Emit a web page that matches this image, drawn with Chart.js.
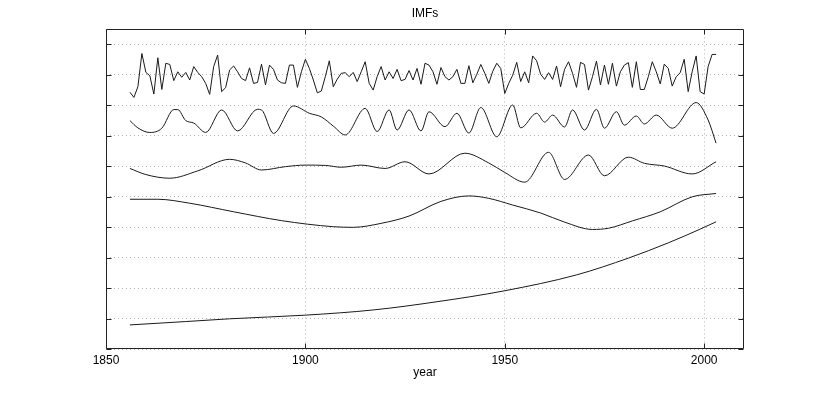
<!DOCTYPE html>
<html>
<head>
<meta charset="utf-8">
<script src="https://cdn.jsdelivr.net/npm/chart.js@4"></script>
<style>
  html, body { margin: 0; padding: 0; background: #fff; }
</style>
</head>
<body>
<canvas id="imfChart" width="822" height="393"></canvas>
<script>
// IMF 1: annual values 1856..2003 (plotted with its own offset)
const imf1Start = 1856;
const imf1 = [
    8.42, 8.25, 8.60, 9.69, 9.07, 8.96, 8.36, 9.55, 8.51, 9.37,
    9.33, 8.80, 9.09, 8.91, 9.07, 8.82, 9.26, 9.07, 8.93, 8.71,
    8.35, 9.26, 9.64, 8.44, 8.57, 9.15, 9.28, 9.09, 8.87, 8.80,
    9.22, 8.71, 8.74, 9.34, 8.66, 9.31, 9.17, 8.82, 8.73, 8.71,
    9.31, 9.31, 8.58, 9.09, 9.50, 9.20, 8.82, 8.40, 8.46, 8.93,
    9.45, 8.60, 8.85, 9.04, 9.06, 8.93, 9.07, 8.77, 9.09, 9.42,
    8.71, 8.49, 8.93, 9.26, 8.82, 9.09, 8.87, 9.17, 8.80, 8.84,
    9.13, 8.82, 9.20, 8.68, 9.37, 9.31, 9.09, 8.68, 9.23, 8.93,
    8.82, 8.93, 9.17, 8.71, 8.71, 9.29, 8.73, 9.01, 9.33, 9.04,
    8.71, 9.11, 9.37, 9.20, 8.38, 8.71, 8.98, 9.40, 8.77, 9.09,
    8.73, 9.61, 9.45, 9.01, 8.84, 9.06, 8.84, 9.28, 8.60, 9.17,
    9.42, 9.04, 8.58, 9.40, 9.33, 8.49, 8.93, 9.44, 8.66, 9.31,
    8.68, 9.37, 8.62, 9.09, 9.31, 9.39, 8.58, 9.42, 8.51, 8.51,
    8.93, 9.42, 9.09, 8.69, 9.34, 9.20, 8.62, 8.93, 9.06, 9.50,
    8.44, 9.09, 9.61, 8.44, 8.36, 9.26, 9.66, 9.66
];

// smoother IMFs: values read at turning points
const imf2Years = [1856, 1858, 1861, 1864, 1867, 1868, 1870, 1872, 1875, 1879, 1883, 1888, 1889, 1892, 1897,
    1901, 1904, 1907, 1910, 1915, 1918, 1921, 1923, 1926, 1929, 1931, 1935, 1938, 1941, 1944, 1948,
    1952, 1954, 1958, 1960, 1962, 1965, 1967, 1970, 1973, 1975, 1978, 1980, 1983, 1985, 1988, 1992,
    1998, 2001, 2003];
const imf2 = [7.49, 7.25, 7.10, 7.24, 7.85, 7.85, 7.49, 7.41, 7.10, 7.84, 7.15, 7.86, 7.84, 7.07, 7.97,
    7.73, 7.61, 7.31, 7.02, 7.89, 7.13, 7.84, 7.18, 7.84, 7.15, 7.78, 7.29, 7.73, 7.08, 7.92, 6.96,
    8.00, 7.25, 7.73, 7.44, 7.67, 7.28, 7.84, 7.18, 7.86, 7.24, 7.78, 7.34, 7.64, 7.38, 7.67, 7.24,
    8.08, 7.51, 6.75];

const imf3Years = [1856, 1860, 1866, 1873, 1881, 1885, 1889, 1895, 1900, 1905, 1909, 1914, 1920, 1925,
    1931, 1940, 1946, 1950, 1955, 1961, 1965, 1971, 1975, 1981, 1985, 1990, 1997, 2003];
const imf3 = [5.92, 5.72, 5.60, 5.84, 6.22, 6.10, 5.87, 5.98, 6.03, 6.02, 5.96, 6.03, 5.92, 6.14,
    5.74, 6.42, 6.10, 5.79, 5.47, 6.45, 5.56, 6.36, 5.68, 6.29, 6.09, 6.00, 5.74, 6.14];

const imf4Years = [1856, 1863, 1871, 1882, 1894, 1907, 1912, 1919, 1926, 1934, 1941, 1946, 1952, 1959,
    1965, 1972, 1976, 1982, 1989, 1997, 2003];
const imf4 = [4.91, 4.91, 4.78, 4.50, 4.21, 4.01, 3.99, 4.12, 4.36, 4.84, 5.02, 4.94, 4.72, 4.46,
    4.16, 3.92, 3.96, 4.20, 4.50, 4.99, 5.10];

const trendYears = [1856, 1870, 1881, 1900, 1917, 1933, 1950, 1968, 1981, 1991, 1999, 2003];
const trend = [0.79, 0.90, 0.99, 1.11, 1.28, 1.55, 1.91, 2.43, 2.98, 3.48, 3.93, 4.17];

const xTicks = [1850, 1900, 1950, 2000];
const yTicks = [0, 1, 2, 3, 4, 5, 6, 7, 8, 9, 10];

function pairs(xs, ys) {
    return ys.map((v, i) => ({ x: xs[i], y: v }));
}

const imf1Data = imf1.map((v, i) => ({ x: imf1Start + i, y: v }));

// matlab-like box with inward tick marks
const frame = {
    id: 'frame',
    afterDraw(chart) {
        const { ctx, chartArea: a, scales: { x, y } } = chart;
        const L = Math.round(a.left) + 0.5, R = Math.round(a.right) - 0.5;
        const T = Math.round(a.top) + 0.5, B = Math.round(a.bottom) - 0.5;
        ctx.save();
        ctx.strokeStyle = '#222';
        ctx.lineWidth = 1;
        ctx.beginPath();
        x.ticks.forEach(t => {
            const px = Math.round(x.getPixelForValue(t.value)) + 0.5;
            ctx.moveTo(px, B); ctx.lineTo(px, B - 5);
            ctx.moveTo(px, T); ctx.lineTo(px, T + 5);
        });
        y.ticks.forEach(t => {
            const py = Math.round(y.getPixelForValue(t.value)) + 0.5;
            ctx.moveTo(L, py); ctx.lineTo(L + 5, py);
            ctx.moveTo(R, py); ctx.lineTo(R - 5, py);
        });
        ctx.rect(L, T, R - L, B - T);
        ctx.stroke();
        ctx.restore();
    }
};

const font = { family: "'Liberation Sans', Arial, sans-serif", size: 12 };

function line(data, smooth) {
    return {
        data: data,
        borderColor: '#1a1a1a',
        borderWidth: 1,
        pointRadius: 0,
        fill: false,
        tension: 0,
        cubicInterpolationMode: smooth ? 'monotone' : 'default'
    };
}

new Chart(document.getElementById('imfChart'), {
    type: 'line',
    data: {
        datasets: [
            line(imf1Data, false),
            line(pairs(imf2Years, imf2), true),
            line(pairs(imf3Years, imf3), true),
            line(pairs(imf4Years, imf4), true),
            line(pairs(trendYears, trend), true)
        ]
    },
    options: {
        responsive: false,
        animation: false,
        layout: { padding: { left: 0, right: 78, top: 0, bottom: 0 } },
        plugins: {
            legend: { display: false },
            tooltip: { enabled: false },
            title: {
                display: true,
                text: 'IMFs',
                fullSize: false,
                color: '#000',
                font: { ...font, weight: 'normal' },
                padding: { top: 6, bottom: 9 }
            }
        },
        scales: {
            x: {
                type: 'linear',
                min: 1850,
                max: 2010,
                afterBuildTicks: s => { s.ticks = xTicks.map(v => ({ value: v })); },
                afterFit: s => { s.height = 44; },
                ticks: {
                    color: '#000',
                    font: font,
                    padding: 4,
                    maxRotation: 0,
                    callback: v => String(v)
                },
                grid: { color: '#b4b4b4', lineWidth: 1, drawTicks: false },
                border: { display: false, dash: [1, 3] },
                title: {
                    display: true,
                    text: 'year',
                    color: '#000',
                    font: font,
                    padding: { top: 0, bottom: 13 }
                }
            },
            y: {
                min: 0,
                max: 10.48,
                afterBuildTicks: s => { s.ticks = yTicks.map(v => ({ value: v })); },
                afterFit: s => { s.width = 106; },
                ticks: { display: false },
                grid: { color: '#b4b4b4', lineWidth: 1, drawTicks: false },
                border: { display: false, dash: [1, 3] }
            }
        }
    },
    plugins: [frame]
});
</script>
</body>
</html>
